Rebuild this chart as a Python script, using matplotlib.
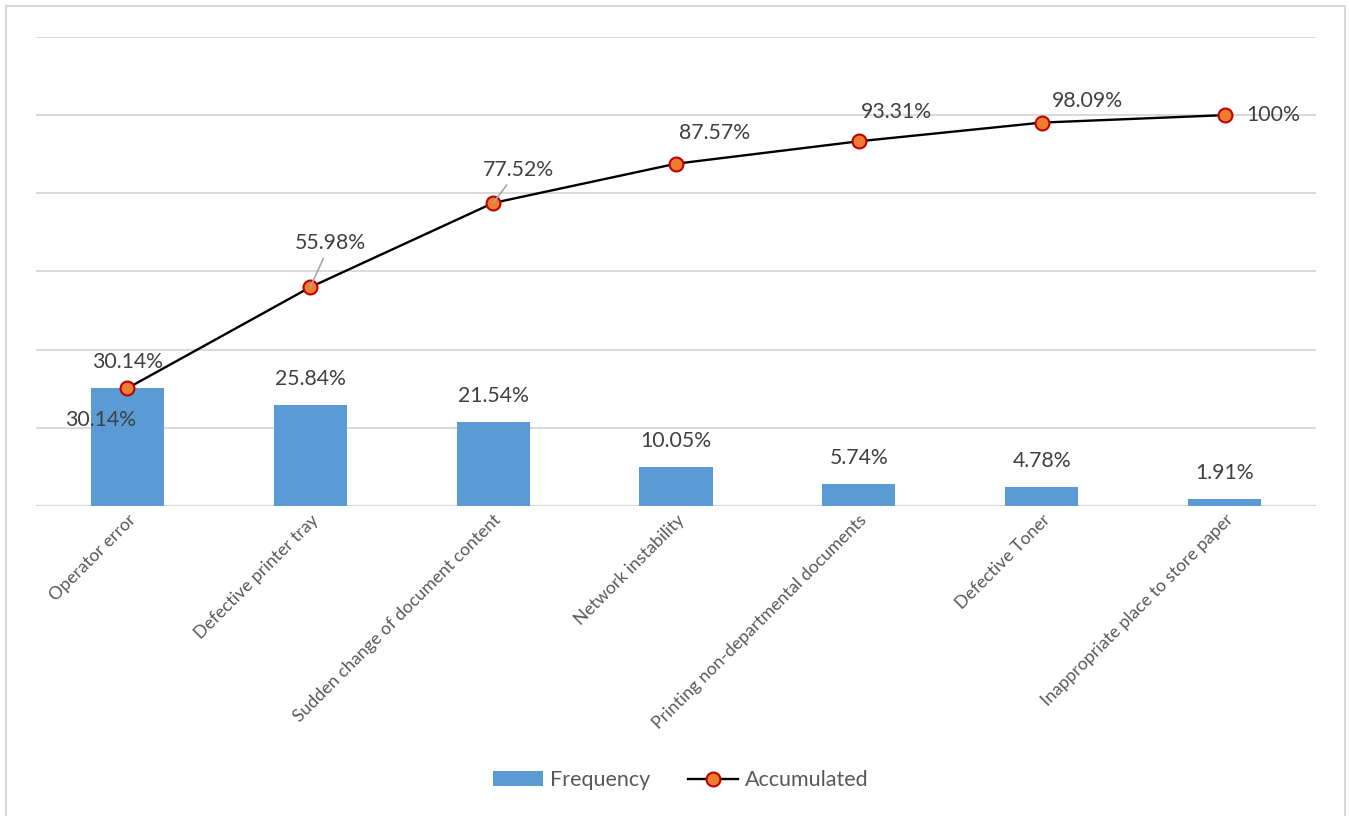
import matplotlib
matplotlib.use("Agg")
import matplotlib.pyplot as plt
from matplotlib.patches import Rectangle
from matplotlib.lines import Line2D
from matplotlib.patches import Patch

plt.rcParams['font.family'] = ['Lato', 'DejaVu Sans']

causes = ['Operator error', 'Defective printer tray', 'Sudden change of document content',
          'Network instability', 'Printing non-departmental documents', 'Defective Toner',
          'Inappropriate place to store paper']
frequency = [30.14, 25.84, 21.54, 10.05, 5.74, 4.78, 1.91]
accumulated = [30.14, 55.98, 77.52, 87.57, 93.31, 98.09, 100]
accum_labels = ['30.14%', '55.98%', '77.52%', '87.57%', '93.31%', '98.09%', '100%']

# label offsets (pixels) for the cumulative line labels, and whether a leader line is drawn
line_offsets = [(-27, -32), (20, 44), (25, 33), (39, 31), (38, 29), (46, 22), (49, 0)]
leaders = [False, True, True, False, False, False, False]

bar_color = '#5B9BD5'
text_color = '#404040'
grid_color = '#d9d9d9'

fig = plt.figure(figsize=(13.49, 8.16), dpi=100, facecolor='white')
ax = fig.add_axes([0.0267, 0.3799, 0.9488, 0.5748])

x = range(len(causes))
ax.bar(x, frequency, width=0.4, color=bar_color, zorder=2)
ax.plot(x, accumulated, color='black', lw=1.7, marker='o', markersize=10,
        markerfacecolor='#ED7D31', markeredgecolor='#C00000', markeredgewidth=1.5, zorder=4)

ax.set_xlim(-0.5, len(causes) - 0.5)
ax.set_ylim(0, 120)
ax.set_yticks(range(0, 121, 20))
ax.yaxis.grid(True, color=grid_color, lw=1.4, zorder=0)
ax.set_axisbelow(True)
ax.axhline(0, color=grid_color, lw=1.6, zorder=1)
for s in ax.spines.values():
    s.set_visible(False)
ax.tick_params(axis='y', length=0, labelleft=False)
ax.tick_params(axis='x', length=0, pad=4)
ax.set_xticks(list(x))
ax.set_xticklabels(causes, rotation=45, ha='right', rotation_mode='anchor',
                   fontsize=12.7, color='#595959')

# bar value labels
for i, v in enumerate(frequency):
    ax.annotate(f'{v:.2f}%', (i, v), xytext=(0, 26), textcoords='offset pixels',
                ha='center', va='center', fontsize=15.3, color=text_color, zorder=5)

# cumulative value labels
for i, (v, lab) in enumerate(zip(accumulated, accum_labels)):
    dx, dy = line_offsets[i]
    arrow = None
    if leaders[i]:
        arrow = dict(arrowstyle='-', color='#a6a6a6', lw=1.2, shrinkA=2, shrinkB=0)
    ax.annotate(lab, (i, v), xytext=(dx, dy), textcoords='offset pixels',
                ha='center', va='center', fontsize=15.3, color=text_color,
                arrowprops=arrow, zorder=5)

handles = [Patch(facecolor=bar_color, edgecolor='none'),
           Line2D([0], [0], color='black', lw=1.7, marker='o', markersize=10,
                  markerfacecolor='#ED7D31', markeredgecolor='#C00000', markeredgewidth=1.5)]
fig.legend(handles, ['Frequency', 'Accumulated'], loc='center', bbox_to_anchor=(0.5045, 0.044),
           ncol=2, frameon=False, fontsize=15.5, labelcolor='#595959',
           handlelength=2.35, handleheight=0.7, columnspacing=1.75, handletextpad=0.3)

# outer chart frame
fig.patches.append(Rectangle((6 / 1349, -0.02), 1339 / 1349, 1.02 - 6 / 816,
                             transform=fig.transFigure, fill=False,
                             edgecolor=grid_color, lw=1.5))

fig.savefig('out.png', dpi=100, facecolor='white')
